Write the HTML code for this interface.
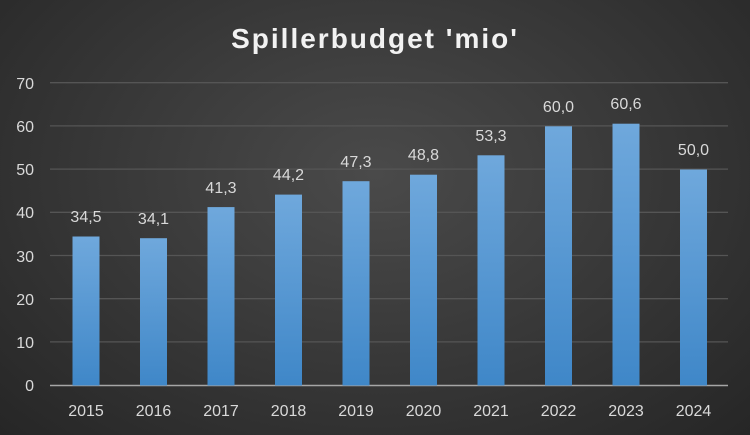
<!DOCTYPE html>
<html><head><style>
html,body{margin:0;padding:0}
body{width:750px;height:435px;overflow:hidden;background:radial-gradient(ellipse at 50% 40%,#4a4a4a 0%,#3a3a3a 45%,#262626 100%);font-family:"Liberation Sans",sans-serif}
</style></head><body>
<svg width="750" height="435" xmlns="http://www.w3.org/2000/svg" style="position:absolute;left:0;top:0">
<defs><linearGradient id="g" x1="0" y1="0" x2="0" y2="1"><stop offset="0" stop-color="#6fa8dc"/><stop offset="1" stop-color="#3f87c8"/></linearGradient></defs>
<text x="375" y="48" text-anchor="middle" fill="#f2f2f2" font-size="28" font-weight="bold" letter-spacing="2">Spillerbudget 'mio'</text>
<g stroke="#555" stroke-width="1.3">
<line x1="50" x2="728" y1="82.7" y2="82.7"/><line x1="50" x2="728" y1="125.9" y2="125.9"/><line x1="50" x2="728" y1="169.1" y2="169.1"/><line x1="50" x2="728" y1="212.3" y2="212.3"/><line x1="50" x2="728" y1="255.5" y2="255.5"/><line x1="50" x2="728" y1="298.7" y2="298.7"/><line x1="50" x2="728" y1="341.9" y2="341.9"/>
</g>
<g fill="#d9d9d9" font-size="16" text-anchor="end">
<text x="34" y="89">70</text><text x="34" y="132">60</text><text x="34" y="175">50</text><text x="34" y="218">40</text><text x="34" y="262">30</text><text x="34" y="305">20</text><text x="34" y="348">10</text><text x="34" y="391">0</text>
</g>
<line x1="50" x2="728" y1="385.5" y2="385.5" stroke="#a6a6a6" stroke-width="1.5"/>
<g fill="#d9d9d9" font-size="16" text-anchor="middle">
<text x="86" y="416">2015</text><text x="153.5" y="416">2016</text><text x="221" y="416">2017</text><text x="288.5" y="416">2018</text><text x="356" y="416">2019</text><text x="423.5" y="416">2020</text><text x="491" y="416">2021</text><text x="558.5" y="416">2022</text><text x="626" y="416">2023</text><text x="693.5" y="416">2024</text>
</g>
<g fill="url(#g)">
<rect x="72.5" y="236.5" width="27" height="149"/>
<rect x="140" y="238.2" width="27" height="147.3"/>
<rect x="207.5" y="207.1" width="27" height="178.4"/>
<rect x="275" y="194.6" width="27" height="190.9"/>
<rect x="342.5" y="181.2" width="27" height="204.3"/>
<rect x="410" y="174.7" width="27" height="210.8"/>
<rect x="477.5" y="155.3" width="27" height="230.2"/>
<rect x="545" y="126.3" width="27" height="259.2"/>
<rect x="612.5" y="123.7" width="27" height="261.8"/>
<rect x="680" y="169.5" width="27" height="216"/>
</g>
<g fill="#d9d9d9" font-size="16" text-anchor="middle">
<text x="86" y="222">34,5</text><text x="153.5" y="224">34,1</text><text x="221" y="193">41,3</text><text x="288.5" y="180">44,2</text><text x="356" y="167">47,3</text><text x="423.5" y="160">48,8</text><text x="491" y="141">53,3</text><text x="558.5" y="112">60,0</text><text x="626" y="109">60,6</text><text x="693.5" y="155">50,0</text>
</g>
</svg>
</body></html>
